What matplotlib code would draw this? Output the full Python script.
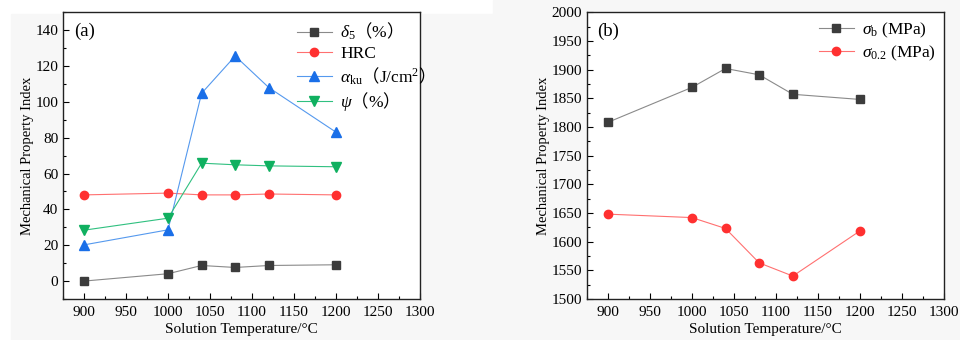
import matplotlib
matplotlib.use("Agg")
import matplotlib.pyplot as plt
from matplotlib.patches import Rectangle
from matplotlib.ticker import MultipleLocator

plt.rcParams['font.family'] = ['Liberation Serif', 'Noto Sans CJK SC', 'DejaVu Serif']
plt.rcParams['mathtext.fontset'] = 'custom'
plt.rcParams['mathtext.rm'] = 'Liberation Serif'
plt.rcParams['mathtext.it'] = 'Liberation Serif:italic'
plt.rcParams['mathtext.bf'] = 'Liberation Serif:bold'
plt.rcParams['mathtext.sf'] = 'Noto Sans CJK SC'

temps = [900, 1000, 1040, 1080, 1120, 1200]
delta5 = [0, 4.1, 8.7, 7.6, 8.7, 9.1]
hrc = [48.1, 49.1, 48.1, 48.1, 48.6, 48.1]
aku = [20.2, 28.6, 104.8, 125.6, 108.0, 83.1]
psi = [28.4, 35.1, 65.8, 64.9, 64.3, 63.8]

sigma_b = [1808, 1869, 1902, 1891, 1857, 1848]
sigma_02 = [1648, 1642, 1623, 1563, 1540, 1619]

x_ticks = [900, 950, 1000, 1050, 1100, 1150, 1200, 1250, 1300]

lab_delta = r'$\delta_5\mathsf{（}\mathrm{\%}\mathsf{）}$'
lab_hrc = 'HRC'
lab_aku = r'$\alpha_{\mathrm{ku}}\mathsf{（}\mathrm{J/cm^2}\mathsf{）}$'
lab_psi = r'$\psi\mathsf{（}\mathrm{\%}\mathsf{）}$'
lab_sb = r'$\sigma_{\mathrm{b}}\ \mathrm{(MPa)}$'
lab_s02 = r'$\sigma_{0.2}\ \mathrm{(MPa)}$'

fig = plt.figure(figsize=(9.6, 3.4), dpi=100, facecolor='white')
bg = '#f7f7f7'
fig.add_artist(Rectangle((11/960, 0), (493-11)/960, (340-14)/340,
                         transform=fig.transFigure, color=bg, zorder=-10))
fig.add_artist(Rectangle((493/960, 0), 467/960, 1,
                         transform=fig.transFigure, color=bg, zorder=-10))

ax1 = fig.add_axes([63/960, 1-299/340, (420-63)/960, (299-12.3)/340])
ax2 = fig.add_axes([586.7/960, 1-299/340, (944.3-586.7)/960, (299-12.3)/340])

c_black = '#3c3c3c'
c_red = '#ff3030'
c_blue = '#1a6fe8'
c_green = '#10b060'
lw = 0.8
ms = 5.5

ax1.plot(temps, delta5, '-s', color='#8a8a8a', mfc=c_black, mec=c_black, lw=lw, ms=ms,
         label=lab_delta)
ax1.plot(temps, hrc, '-o', color='#ff7070', mfc=c_red, mec=c_red, lw=lw, ms=ms+0.5,
         label=lab_hrc)
ax1.plot(temps, aku, '-^', color='#5599ee', mfc=c_blue, mec=c_blue, lw=lw, ms=ms+1,
         label=lab_aku)
ax1.plot(temps, psi, '-v', color='#30c080', mfc=c_green, mec=c_green, lw=lw, ms=ms+1,
         label=lab_psi)
ax1.set_xlim(875, 1300)
ax1.set_ylim(-10, 150)
ax1.yaxis.set_major_locator(MultipleLocator(20))
ax1.yaxis.set_minor_locator(MultipleLocator(10))
ax1.text(0.03, 0.965, '(a)', transform=ax1.transAxes, fontsize=13.5, va='top', ha='left')

ax2.plot(temps, sigma_b, '-s', color='#8a8a8a', mfc=c_black, mec=c_black, lw=lw, ms=ms,
         label=lab_sb)
ax2.plot(temps, sigma_02, '-o', color='#ff7070', mfc=c_red, mec=c_red, lw=lw, ms=ms+0.5,
         label=lab_s02)
ax2.set_xlim(875, 1300)
ax2.set_ylim(1500, 2000)
ax2.yaxis.set_major_locator(MultipleLocator(50))
ax2.yaxis.set_minor_locator(MultipleLocator(25))
ax2.text(0.03, 0.965, '(b)', transform=ax2.transAxes, fontsize=13.5, va='top', ha='left')

for ax, lx in ((ax1, (297-63)/357), (ax2, (819-586.7)/357.6)):
    ax.set_facecolor('white')
    ax.set_xticks(x_ticks)
    ax.xaxis.set_minor_locator(MultipleLocator(25))
    ax.tick_params(which='both', direction='in', top=False, right=False, labelsize=11)
    ax.tick_params(axis='x', which='major', pad=5)
    ax.tick_params(which='major', length=4, width=0.8)
    ax.tick_params(which='minor', length=2.5, width=0.8)
    for s in ax.spines.values():
        s.set_linewidth(1.0)
        s.set_color('#222222')
    ax.set_xlabel('Solution Temperature/\u00b0C', fontsize=11, labelpad=3)
    ax.set_ylabel('Mechanical Property Index', fontsize=10.5, labelpad=1)
    ax.legend(loc='upper left', bbox_to_anchor=(lx, 0.97), frameon=False,
              fontsize=12.5, handlelength=2.0, labelspacing=0.2,
              borderaxespad=0, borderpad=0, handletextpad=0.5)

plt.savefig('out.png', dpi=100, facecolor=fig.get_facecolor())
